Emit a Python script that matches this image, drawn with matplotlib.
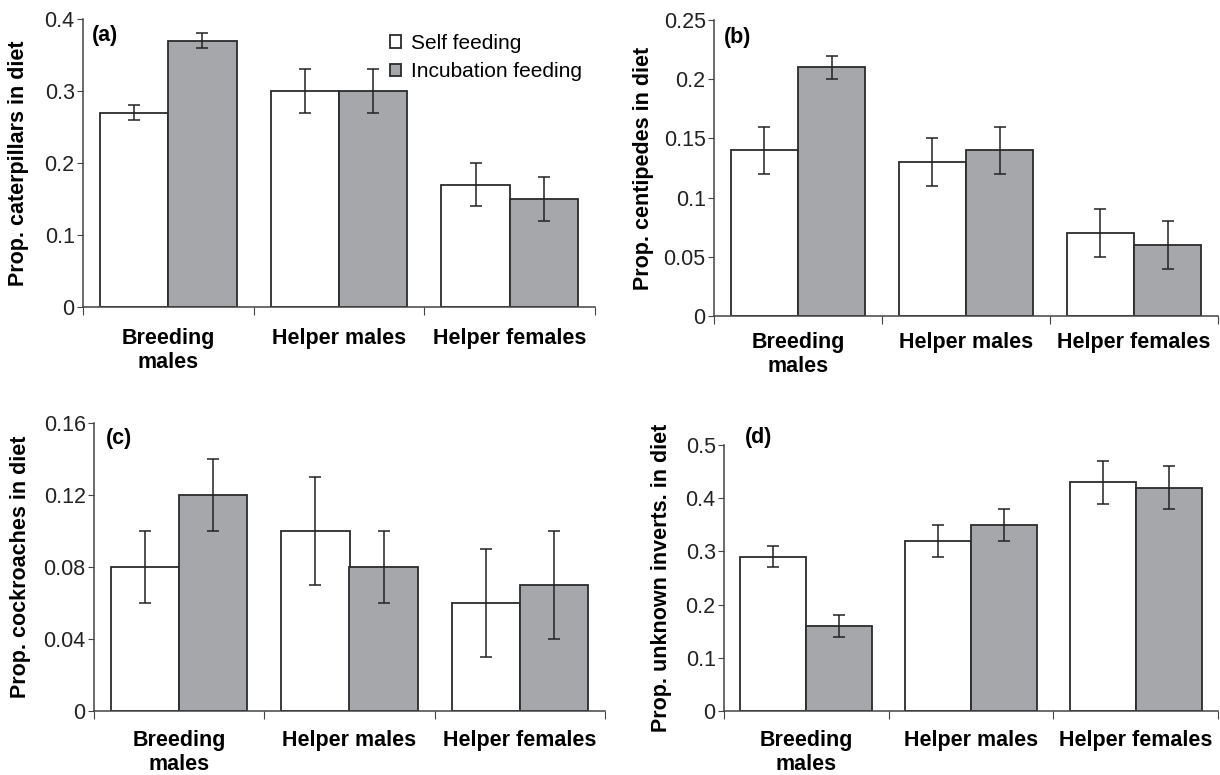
import matplotlib
matplotlib.use("Agg")
import matplotlib.pyplot as plt
import numpy as np

plt.rcParams['font.family'] = ['Liberation Sans', 'DejaVu Sans']

groups = ["Breeding\nmales", "Helper males", "Helper females"]
series = ["Self feeding", "Incubation feeding"]

# (a) caterpillars
cat_self = [0.27, 0.30, 0.17]
cat_self_err = [0.01, 0.03, 0.03]
cat_incub = [0.37, 0.30, 0.15]
cat_incub_err = [0.01, 0.03, 0.03]

# (b) centipedes
cent_self = [0.14, 0.13, 0.07]
cent_self_err = [0.02, 0.02, 0.02]
cent_incub = [0.21, 0.14, 0.06]
cent_incub_err = [0.01, 0.02, 0.02]

# (c) cockroaches
cock_self = [0.08, 0.10, 0.06]
cock_self_err = [0.02, 0.03, 0.03]
cock_incub = [0.12, 0.08, 0.07]
cock_incub_err = [0.02, 0.02, 0.03]

# (d) unknown inverts
unk_self = [0.29, 0.32, 0.43]
unk_self_err = [0.02, 0.03, 0.04]
unk_incub = [0.16, 0.35, 0.42]
unk_incub_err = [0.02, 0.03, 0.04]

panels = [
    {"tag": "(a)", "ylabel": "Prop. caterpillars in diet",
     "self": cat_self, "self_err": cat_self_err, "incub": cat_incub, "incub_err": cat_incub_err,
     "yticks": [0, 0.1, 0.2, 0.3, 0.4], "yticklabels": ["0", "0.1", "0.2", "0.3", "0.4"],
     "rect": [83, 19, 595, 307], "tag_xy": (92, 35), "ylab_x": 19, "xpad": 15},
    {"tag": "(b)", "ylabel": "Prop. centipedes in diet",
     "self": cent_self, "self_err": cent_self_err, "incub": cent_incub, "incub_err": cent_incub_err,
     "yticks": [0, 0.05, 0.1, 0.15, 0.2, 0.25], "yticklabels": ["0", "0.05", "0.1", "0.15", "0.2", "0.25"],
     "rect": [714, 20, 1218, 316], "tag_xy": (724, 38), "ylab_x": 643, "xpad": 11.5},
    {"tag": "(c)", "ylabel": "Prop. cockroaches in diet",
     "self": cock_self, "self_err": cock_self_err, "incub": cock_incub, "incub_err": cock_incub_err,
     "yticks": [0, 0.04, 0.08, 0.12, 0.16], "yticklabels": ["0", "0.04", "0.08", "0.12", "0.16"],
     "rect": [94, 423, 605, 711], "tag_xy": (106, 439), "ylab_x": 21, "xpad": 13.5},
    {"tag": "(d)", "ylabel": "Prop. unknown inverts. in diet",
     "self": unk_self, "self_err": unk_self_err, "incub": unk_incub, "incub_err": unk_incub_err,
     "yticks": [0, 0.1, 0.2, 0.3, 0.4, 0.5], "yticklabels": ["0", "0.1", "0.2", "0.3", "0.4", "0.5"],
     "rect": [724, 445, 1218, 711], "tag_xy": (745, 437), "ylab_x": 662, "xpad": 13.5},
]

W, H = 1220, 775
fig = plt.figure(figsize=(W / 100, H / 100), dpi=100)

white = "#ffffff"
gray = "#a6a7ab"
edge = "#2b2b2b"
axis_col = "#444444"
fs = 15.5

x = np.arange(len(groups))
width = 0.4

for p in panels:
    x0, y0, x1, y1 = p["rect"]
    ax = fig.add_axes([x0 / W, 1 - y1 / H, (x1 - x0) / W, (y1 - y0) / H])
    err_kw = dict(ecolor="#222222", elinewidth=1.1, capsize=4, capthick=1.1)
    b1 = ax.bar(x - width / 2, p["self"], width, yerr=p["self_err"], color=white,
                edgecolor=edge, linewidth=1.3, error_kw=err_kw, label=series[0])
    b2 = ax.bar(x + width / 2, p["incub"], width, yerr=p["incub_err"], color=gray,
                edgecolor=edge, linewidth=1.3, error_kw=err_kw, label=series[1])
    ax.set_xlim(-0.5, 2.5)
    ax.set_ylim(0, p["yticks"][-1])
    ax.set_yticks(p["yticks"])
    ax.set_yticklabels(p["yticklabels"])
    ax.set_xticks([-0.5, 0.5, 1.5, 2.5])
    ax.set_xticklabels([])
    ax.set_xticks(x, minor=True)
    ax.set_xticklabels(groups, minor=True, fontsize=fs, fontweight="bold",
                       linespacing=1.2)
    ax.tick_params(axis="x", which="minor", length=0, pad=p["xpad"])
    ax.tick_params(axis="x", which="major", length=6, direction="out", color=axis_col)
    ax.tick_params(axis="y", length=4, direction="out", color=axis_col, labelsize=fs,
                   pad=2, labelcolor="#222222")
    ax.spines["top"].set_visible(False)
    ax.spines["right"].set_visible(False)
    for s in ["left", "bottom"]:
        ax.spines[s].set_color(axis_col)
        ax.spines[s].set_linewidth(1.1)
    fig.text(p["ylab_x"] / W, 1 - ((y0 + y1) / 2) / H, p["ylabel"], rotation=90,
             fontsize=fs, fontweight="bold", ha="center", va="center")
    tx, ty = p["tag_xy"]
    fig.text(tx / W, 1 - ty / H, p["tag"], fontsize=fs, fontweight="bold",
             va="center", ha="left")
    if p["tag"] == "(a)":
        ax.legend(handles=[b1, b2], loc="upper left",
                  bbox_to_anchor=(390 / W, 1 - 34 / H), bbox_transform=fig.transFigure,
                  frameon=False, fontsize=15, handlelength=0.55, handleheight=0.55,
                  handletextpad=0.45, labelspacing=0.45, borderaxespad=0, borderpad=0)

fig.savefig("out.png", dpi=100)
